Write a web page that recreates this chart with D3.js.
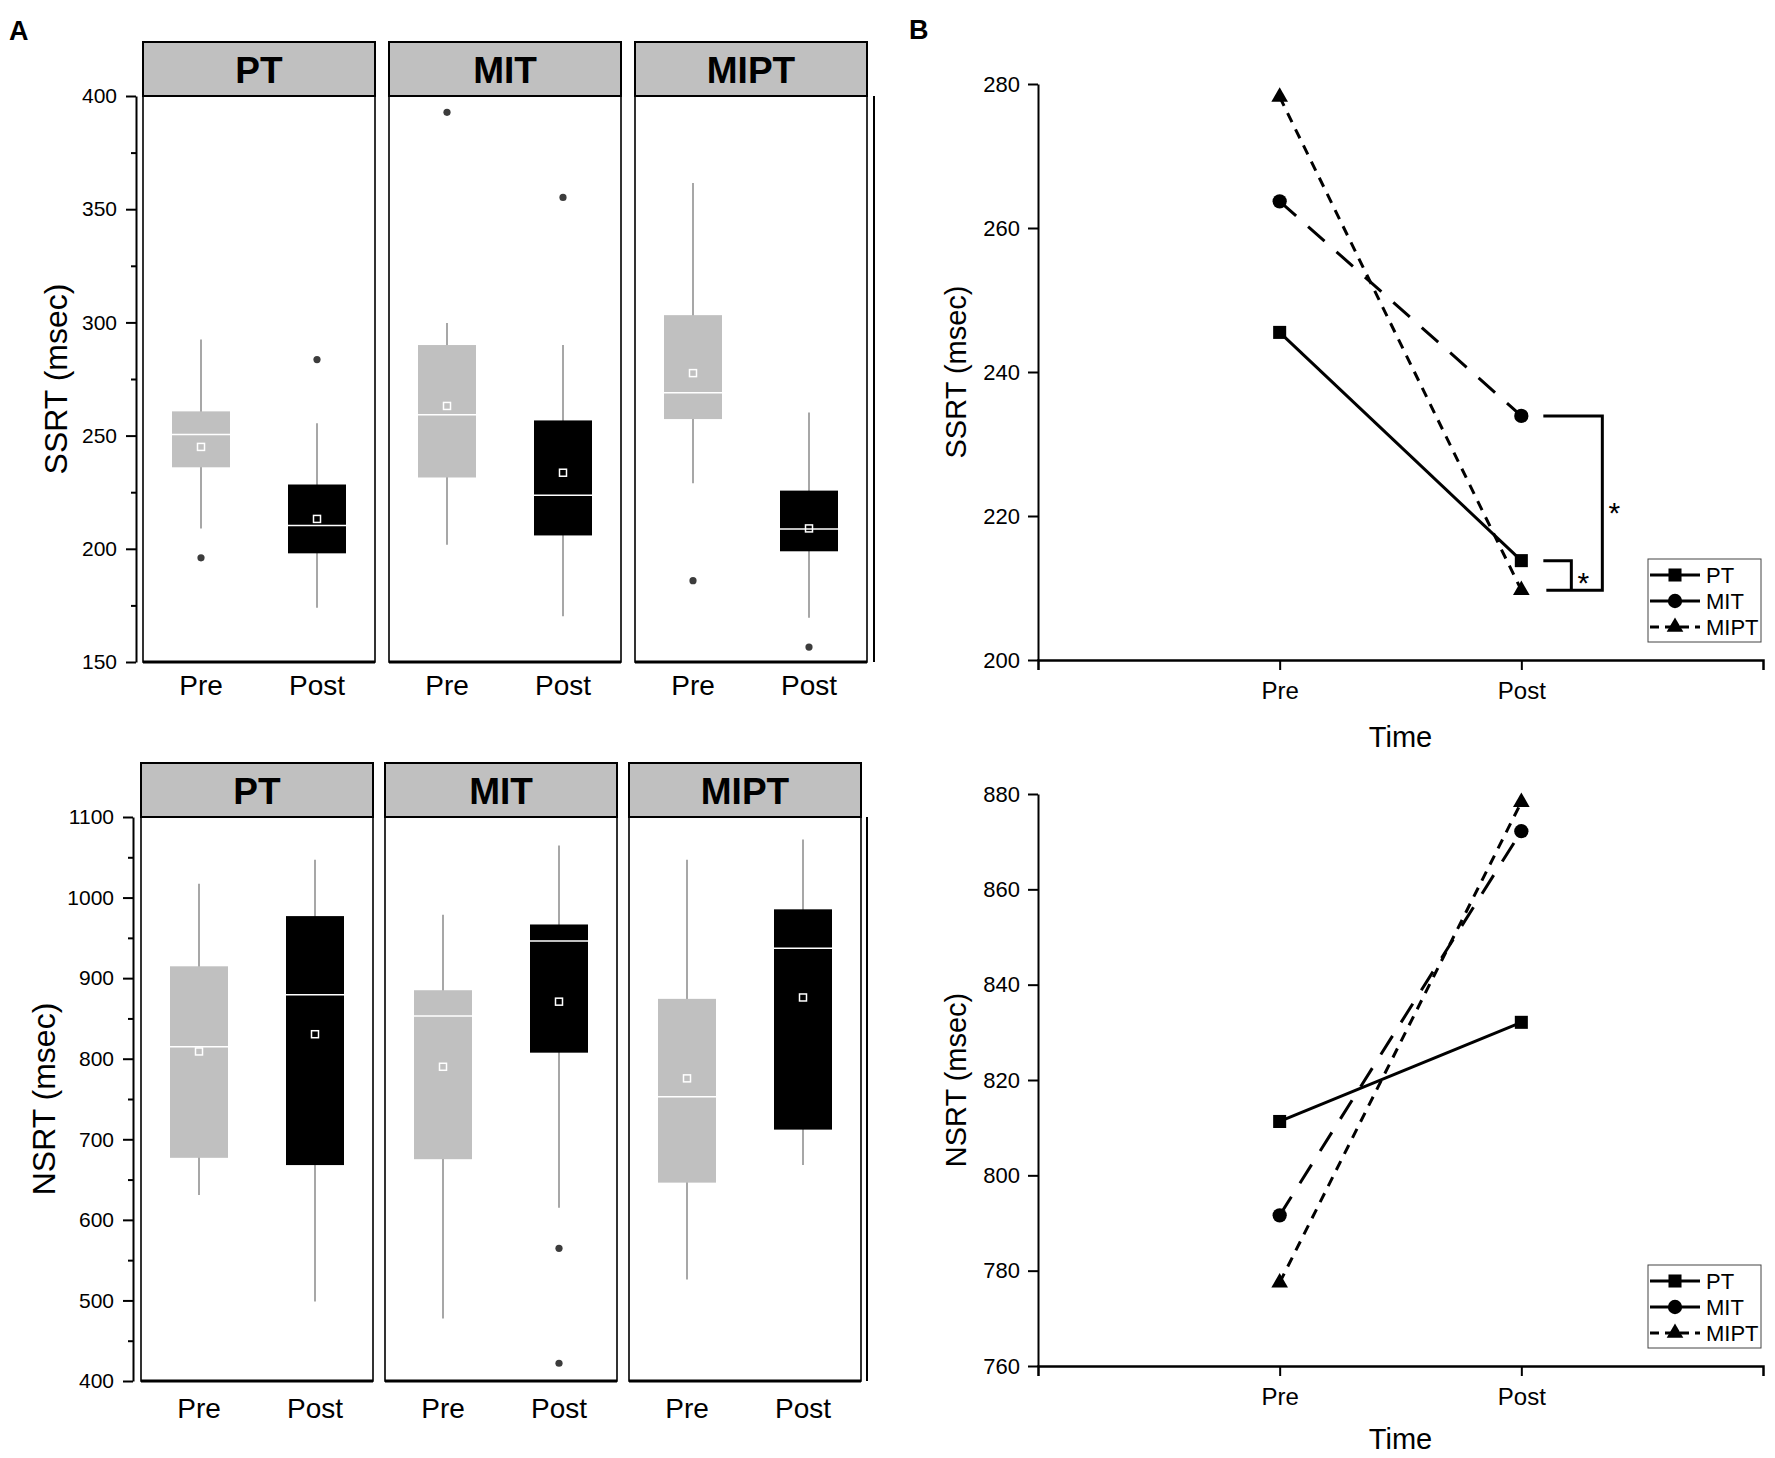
<!DOCTYPE html>
<html>
<head>
<meta charset="utf-8">
<script src="https://d3js.org/d3.v7.min.js"></script>
<style>
  body { margin: 0; background: #fff; }
  svg { display: block; font-family: "Liberation Sans", Arial, sans-serif; }
</style>
</head>
<body>
<svg id="fig" width="1775" height="1458"></svg>
<script>
// groups and time points
const groups = ["PT", "MIT", "MIPT"];
const times = ["Pre", "Post"];

// Panel A box stats, order: PT Pre, PT Post, MIT Pre, MIT Post, MIPT Pre, MIPT Post
const ssrtLow = [209, 174, 201.8, 170.2, 228.9, 169.6];
const ssrtQ1 = [236, 198, 231.5, 205.9, 257.3, 198.9];
const ssrtMed = [250.5, 210.3, 259.2, 223.7, 268.9, 208.8];
const ssrtQ3 = [260.7, 228.4, 290, 256.7, 303.2, 225.7];
const ssrtHigh = [292.4, 255.5, 299.7, 290, 361.6, 260.2];
const ssrtMean = [245, 213.2, 263.1, 233.6, 277.6, 209];
const ssrtOut = [[196], [283.6], [392.8], [355.2], [185.9], [156.6]];

const nsrtLow = [631, 498.6, 477.5, 615, 526, 668];
const nsrtQ1 = [677, 668, 675.3, 807.5, 646.2, 712];
const nsrtMed = [815, 879.4, 853, 946, 752.9, 937];
const nsrtQ3 = [914.7, 977, 885, 966.6, 874.3, 985.4];
const nsrtHigh = [1017, 1047, 978.6, 1064.7, 1047, 1072];
const nsrtMean = [809, 830.4, 790, 870.8, 775.6, 876];
const nsrtOut = [[], [], [], [564.7, 422], [], []];

// Panel B group means (PT, MIT, MIPT)
const ssrtPre = [245.5, 263.7, 278.2];
const ssrtPost = [213.8, 233.9, 209.7];
const nsrtPre = [811.3, 791.6, 777.5];
const nsrtPost = [832.1, 872.2, 878.3];

// tick values
const ssrtTicksA = [150, 200, 250, 300, 350, 400];
const ssrtMinorA = [175, 225, 275, 325, 375];
const nsrtTicksA = [400, 500, 600, 700, 800, 900, 1000, 1100];
const nsrtMinorA = [450, 550, 650, 750, 850, 950, 1050];
const ssrtTicksB = [200, 220, 240, 260, 280];
const nsrtTicksB = [760, 780, 800, 820, 840, 860, 880];

const svg = d3.select("#fig");
const FONT = '"Liberation Sans", Arial, sans-serif';

// panel letters
svg.append("text").attr("x", 9).attr("y", 40).attr("font-size", 27).attr("font-weight", "bold").text("A");
svg.append("text").attr("x", 909).attr("y", 39).attr("font-size", 27).attr("font-weight", "bold").text("B");

function styleAxis(sel, size) {
  sel.attr("font-family", FONT).attr("font-size", size);
  sel.selectAll("text").attr("fill", "#000");
  sel.selectAll("line, path").attr("stroke", "#000").attr("stroke-width", 2);
}

function drawBoxRow(o) {
  const y = d3.scaleLinear().domain(o.domain).range([o.bottom, o.top]);
  const g = svg.append("g");

  // y axis with major and minor ticks
  const ax = g.append("g").attr("transform", `translate(${o.axisX},0)`)
    .call(d3.axisLeft(y).tickValues(o.ticks).tickSize(10).tickSizeOuter(0).tickPadding(9).tickFormat(d3.format("d")));
  styleAxis(ax, 21);
  const mn = g.append("g").attr("transform", `translate(${o.axisX},0)`)
    .call(d3.axisLeft(y).tickValues(o.minor).tickSize(5).tickSizeOuter(0).tickFormat(""));
  styleAxis(mn, 21);
  mn.select(".domain").remove();

  g.append("text")
    .attr("transform", `translate(${o.labelX},${(o.top + o.bottom) / 2}) rotate(-90)`)
    .attr("text-anchor", "middle").attr("dominant-baseline", "central")
    .attr("font-size", 32).text(o.label);

  groups.forEach((grp, gi) => {
    const left = o.lefts[gi];
    const x = d3.scalePoint().domain(times).range([left, left + o.width]).padding(0.5);
    const bw = x.step() / 2;

    // header strip
    g.append("rect").attr("x", left).attr("y", o.headTop)
      .attr("width", o.width).attr("height", o.top - o.headTop)
      .attr("fill", "#c0c0c0").attr("stroke", "#000").attr("stroke-width", 2);
    g.append("text").attr("x", left + o.width / 2).attr("y", o.headTop + 41)
      .attr("text-anchor", "middle").attr("font-size", 37).attr("font-weight", "bold").text(grp);

    // panel frame
    g.append("rect").attr("x", left).attr("y", o.top)
      .attr("width", o.width).attr("height", o.bottom - o.top)
      .attr("fill", "none").attr("stroke", "#000").attr("stroke-width", 1.6);
    g.append("line").attr("x1", left).attr("x2", left + o.width)
      .attr("y1", o.bottom).attr("y2", o.bottom).attr("stroke", "#000").attr("stroke-width", 3);

    times.forEach((t, ti) => {
      const k = gi * 2 + ti;
      const cx = x(t);
      const fill = ti === 0 ? "#c0c0c0" : "#000";
      // whiskers
      g.append("line").attr("x1", cx).attr("x2", cx)
        .attr("y1", y(o.low[k])).attr("y2", y(o.high[k]))
        .attr("stroke", "#8a8a8a").attr("stroke-width", 1.5);
      // box
      g.append("rect").attr("x", cx - bw / 2).attr("y", y(o.q3[k]))
        .attr("width", bw).attr("height", y(o.q1[k]) - y(o.q3[k]))
        .attr("fill", fill);
      // median
      g.append("line").attr("x1", cx - bw / 2).attr("x2", cx + bw / 2)
        .attr("y1", y(o.med[k])).attr("y2", y(o.med[k]))
        .attr("stroke", "#fff").attr("stroke-width", 1.5);
      // mean
      g.append("rect").attr("x", cx - 3.5).attr("y", y(o.mean[k]) - 3.5)
        .attr("width", 7).attr("height", 7)
        .attr("fill", "none").attr("stroke", "#fff").attr("stroke-width", 1.5);
      // outliers
      o.out[k].forEach(v => {
        g.append("circle").attr("cx", cx).attr("cy", y(v)).attr("r", 3.6).attr("fill", "#3c3c3c");
      });
      // category label
      g.append("text").attr("x", cx).attr("y", o.catY)
        .attr("text-anchor", "middle").attr("font-size", 28).text(t);
    });
  });

  // extra right border line
  g.append("line").attr("x1", o.extraX).attr("x2", o.extraX)
    .attr("y1", o.top).attr("y2", o.bottom).attr("stroke", "#000").attr("stroke-width", 2);
}

drawBoxRow({
  domain: [150, 400], top: 96, bottom: 662, headTop: 42, axisX: 136,
  lefts: [143, 389, 635], width: 232, extraX: 874, catY: 695, labelX: 56,
  ticks: ssrtTicksA, minor: ssrtMinorA, label: "SSRT (msec)",
  low: ssrtLow, q1: ssrtQ1, med: ssrtMed, q3: ssrtQ3, high: ssrtHigh, mean: ssrtMean, out: ssrtOut
});

drawBoxRow({
  domain: [400, 1100], top: 817, bottom: 1381, headTop: 763, axisX: 133,
  lefts: [141, 385, 629], width: 232, extraX: 867, catY: 1418, labelX: 44,
  ticks: nsrtTicksA, minor: nsrtMinorA, label: "NSRT (msec)",
  low: nsrtLow, q1: nsrtQ1, med: nsrtMed, q3: nsrtQ3, high: nsrtHigh, mean: nsrtMean, out: nsrtOut
});

// panel B line charts
const dashes = [null, "22,16", "10,8"];
const symbols = [d3.symbolSquare, d3.symbolCircle, d3.symbolTriangle];
const symSizes = [170, 160, 120];
const legendDash = [null, null, "9,6"];

function drawLineChart(o) {
  const x = d3.scalePoint().domain(times).range([1038, 1763]).padding(1);
  const y = d3.scaleLinear().domain(o.domain).range([o.bottom, o.top]);
  const g = svg.append("g");

  const ya = g.append("g").attr("transform", "translate(1038,0)")
    .call(d3.axisLeft(y).tickValues(o.ticks).tickSize(10).tickSizeOuter(0).tickPadding(8));
  styleAxis(ya, 22);
  const xa = g.append("g").attr("transform", `translate(0,${o.bottom})`)
    .call(d3.axisBottom(x).tickSize(10).tickSizeOuter(10).tickPadding(12));
  styleAxis(xa, 24);
  xa.select(".domain").attr("stroke-width", 2.5);

  g.append("text").attr("x", (1038 + 1763) / 2).attr("y", o.timeY)
    .attr("text-anchor", "middle").attr("font-size", 29).text("Time");
  g.append("text")
    .attr("transform", `translate(956,${(o.top + o.bottom) / 2}) rotate(-90)`)
    .attr("text-anchor", "middle").attr("dominant-baseline", "central")
    .attr("font-size", 29).text(o.label);

  const line = d3.line().x(d => x(d.t)).y(d => y(d.v));
  groups.forEach((grp, i) => {
    const pts = [{ t: "Pre", v: o.pre[i] }, { t: "Post", v: o.post[i] }];
    g.append("path").datum(pts).attr("d", line)
      .attr("fill", "none").attr("stroke", "#000").attr("stroke-width", 3)
      .attr("stroke-dasharray", dashes[i]);
    pts.forEach(p => {
      g.append("path").attr("d", d3.symbol(symbols[i], symSizes[i])())
        .attr("transform", `translate(${x(p.t)},${y(p.v)})`).attr("fill", "#000");
    });
  });

  // legend
  const lx = 1648, ly = o.bottom - 101;
  const lg = g.append("g").attr("transform", `translate(${lx},${ly})`);
  lg.append("rect").attr("width", 113).attr("height", 83)
    .attr("fill", "#fff").attr("stroke", "#444").attr("stroke-width", 1);
  groups.forEach((grp, i) => {
    const ry = 16 + i * 26;
    lg.append("line").attr("x1", 2).attr("x2", 52).attr("y1", ry).attr("y2", ry)
      .attr("stroke", "#000").attr("stroke-width", 3).attr("stroke-dasharray", legendDash[i]);
    lg.append("path").attr("d", d3.symbol(symbols[i], symSizes[i])())
      .attr("transform", `translate(27,${ry})`).attr("fill", "#000");
    lg.append("text").attr("x", 58).attr("y", ry + 8).attr("font-size", 22).text(grp);
  });

  if (o.brackets) {
    const px = x("Post");
    const yM = y(o.post[1]), yP = y(o.post[0]), yI = y(o.post[2]);
    const br = g.append("g").attr("fill", "none").attr("stroke", "#000").attr("stroke-width", 3);
    br.append("path").attr("d", `M${px + 22},${yM} H${px + 81} V${yI} H${px + 25}`);
    br.append("path").attr("d", `M${px + 22},${yP} H${px + 50} V${yI}`);
    g.append("text").attr("x", px + 93).attr("y", (yM + yI) / 2 + 20)
      .attr("text-anchor", "middle").attr("font-size", 30).text("*");
    g.append("text").attr("x", px + 62).attr("y", (yP + yI) / 2 + 18)
      .attr("text-anchor", "middle").attr("font-size", 30).text("*");
  }
}

drawLineChart({
  domain: [200, 280], top: 84, bottom: 660, ticks: ssrtTicksB, timeY: 747,
  label: "SSRT (msec)", pre: ssrtPre, post: ssrtPost, brackets: true
});

drawLineChart({
  domain: [760, 880], top: 794, bottom: 1366, ticks: nsrtTicksB, timeY: 1449,
  label: "NSRT (msec)", pre: nsrtPre, post: nsrtPost, brackets: false
});
</script>
</body>
</html>
